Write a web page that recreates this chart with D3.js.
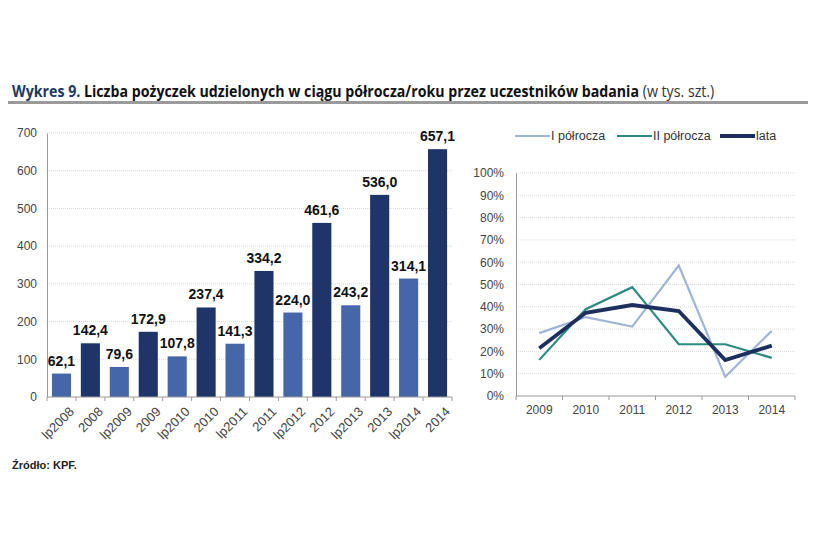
<!DOCTYPE html>
<html lang="pl">
<head>
<meta charset="UTF-8">
<title>Wykres 9</title>
<script src="https://d3js.org/d3.v7.min.js"></script>
<style>
  body { margin: 0; background: #fff; }
  svg { display: block; font-family: "Liberation Sans", Arial, sans-serif; }
  .title { font-family: "Open Sans", "Liberation Sans", sans-serif; font-size: 16px; }
  .tick text { fill: #444; font-size: 12px; }
  .val { font-weight: bold; font-size: 14px; fill: #111; text-anchor: middle; }
  .legend text { font-size: 12.5px; fill: #333; }
</style>
</head>
<body>
<svg id="chart" width="813" height="541"></svg>
<script>
// bar chart: liczba pożyczek (tys. szt.)
const barCats = ["Ip2008","2008","Ip2009","2009","Ip2010","2010","Ip2011","2011","Ip2012","2012","Ip2013","2013","Ip2014","2014"];
const barLabels = ["lp2008","2008","lp2009","2009","lp2010","2010","lp2011","2011","lp2012","2012","lp2013","2013","lp2014","2014"];
const barValues = [62.1, 142.4, 79.6, 172.9, 107.8, 237.4, 141.3, 334.2, 224.0, 461.6, 243.2, 536.0, 314.1, 657.1];
const barTicks = [0, 100, 200, 300, 400, 500, 600, 700];

// line chart: dynamika (%)
const years = ["2009","2010","2011","2012","2013","2014"];
const h1Growth = [0.282, 0.354, 0.311, 0.585, 0.086, 0.292];
const h2Growth = [0.162, 0.389, 0.488, 0.232, 0.232, 0.171];
const yearGrowth = [0.214, 0.373, 0.408, 0.381, 0.161, 0.226];
const seriesNames = ["I półrocza", "II półrocza", "lata"];
const pctTicks = [0, .1, .2, .3, .4, .5, .6, .7, .8, .9, 1];

const svg = d3.select("#chart");
const fmt = d3.format(".1f");

// title, stretched to the reference width
const titleG = svg.append("g");
const title = titleG.append("text").attr("class", "title").attr("x", 0).attr("y", 0);
title.append("tspan").attr("fill", "#1f3864").attr("font-weight", "bold").text("Wykres 9. ");
title.append("tspan").attr("fill", "#111").attr("font-weight", "bold")
  .text("Liczba pożyczek udzielonych w ciągu półrocza/roku przez uczestników badania ");
title.append("tspan").attr("fill", "#333").text("(w tys. szt.)");
const tw = title.node().getComputedTextLength();
titleG.attr("transform", `translate(12,97) scale(${703 / tw},1)`);
svg.append("rect").attr("x", 8).attr("y", 101).attr("width", 800).attr("height", 3).attr("fill", "#9a9a9a");

// ---- bars ----
const x = d3.scaleBand().domain(barCats).range([47, 452]).paddingInner(0.34).paddingOuter(0.17);
const y = d3.scaleLinear().domain([0, 700]).range([397, 133]);

const gl = svg.append("g");
gl.selectAll("line.grid").data(barTicks.slice(1)).join("line")
  .attr("x1", 47).attr("x2", 452)
  .attr("y1", d => y(d)).attr("y2", d => y(d))
  .attr("stroke", "#d9d9d9").attr("stroke-dasharray", "1,1");

gl.selectAll("rect").data(barValues).join("rect")
  .attr("x", (d, i) => x(barCats[i]))
  .attr("width", x.bandwidth())
  .attr("y", d => y(d))
  .attr("height", d => y(0) - y(d))
  .attr("fill", (d, i) => i % 2 ? "#1f356a" : "#4566a8");

gl.selectAll("text.val").data(barValues).join("text").attr("class", "val")
  .attr("x", (d, i) => x(barCats[i]) + x.bandwidth() / 2)
  .attr("y", d => y(d) - 8)
  .text(d => fmt(d).replace(".", ","));

const yAx = gl.append("g").attr("transform", "translate(47,0)")
  .call(d3.axisLeft(y).tickValues(barTicks).tickSize(0).tickPadding(10));
yAx.select(".domain").attr("stroke", "#999");

const xb = d3.scalePoint().domain(d3.range(15)).range([47, 452]);
const xAx = gl.append("g").attr("transform", "translate(0,397)");
xAx.append("line").attr("x1", 47).attr("x2", 452).attr("stroke", "#999");
xAx.selectAll("line.t").data(d3.range(15)).join("line")
  .attr("x1", d => xb(d)).attr("x2", d => xb(d)).attr("y1", 0).attr("y2", 4).attr("stroke", "#999");
xAx.selectAll("text").data(barLabels).join("text")
  .attr("transform", (d, i) => `translate(${x(barCats[i]) + x.bandwidth() / 2 + 7},${9}) rotate(-45)`)
  .attr("text-anchor", "end").attr("dy", "0.7em")
  .attr("fill", "#444").attr("font-size", 13).text(d => d);

// ---- lines ----
const lx = d3.scaleBand().domain(years).range([516, 795]);
const ly = d3.scaleLinear().domain([0, 1]).range([396, 173]);
const gr = svg.append("g");

gr.selectAll("line.grid").data(pctTicks.slice(1)).join("line")
  .attr("x1", 516).attr("x2", 795)
  .attr("y1", d => ly(d)).attr("y2", d => ly(d))
  .attr("stroke", "#dcdcdc").attr("stroke-dasharray", "1,1");

const lyAx = gr.append("g").attr("transform", "translate(516,0)")
  .call(d3.axisLeft(ly).tickValues(pctTicks).tickFormat(d3.format(".0%")).tickSize(0).tickPadding(12));
lyAx.select(".domain").attr("stroke", "#999");

const lxAx = gr.append("g").attr("transform", "translate(0,396)")
  .call(d3.axisBottom(lx).tickSize(0).tickPadding(9));
lxAx.select(".domain").remove();
gr.append("line").attr("x1", 516).attr("x2", 795).attr("y1", 396).attr("y2", 396).attr("stroke", "#999");
gr.selectAll("line.xt").data(d3.range(7)).join("line")
  .attr("x1", d => 516 + d * lx.step()).attr("x2", d => 516 + d * lx.step())
  .attr("y1", 396).attr("y2", 400).attr("stroke", "#999");

const series = [
  { name: seriesNames[0], vals: h1Growth, color: "#9fb5d8", w: 2.2 },
  { name: seriesNames[1], vals: h2Growth, color: "#2d8a80", w: 2.2 },
  { name: seriesNames[2], vals: yearGrowth, color: "#1d2f5f", w: 3.8 }
];
const line = d3.line().x((d, i) => lx(years[i]) + lx.bandwidth() / 2).y(d => ly(d));
gr.selectAll("path.s").data(series).join("path")
  .attr("fill", "none").attr("stroke", d => d.color).attr("stroke-width", d => d.w)
  .attr("stroke-linejoin", "miter")
  .attr("d", d => line(d.vals));

// legend
const legX = [515, 617, 720];
const leg = svg.append("g").attr("class", "legend");
series.forEach((s, i) => {
  leg.append("line").attr("x1", legX[i]).attr("x2", legX[i] + 35)
    .attr("y1", 136).attr("y2", 136).attr("stroke", s.color).attr("stroke-width", s.w);
  leg.append("text").attr("x", legX[i] + 36).attr("y", 140).text(s.name);
});

// source
svg.append("text").attr("x", 12).attr("y", 469)
  .attr("font-weight", "bold").attr("font-size", 11).attr("fill", "#222")
  .text("Źródło: KPF.");
</script>
</body>
</html>
